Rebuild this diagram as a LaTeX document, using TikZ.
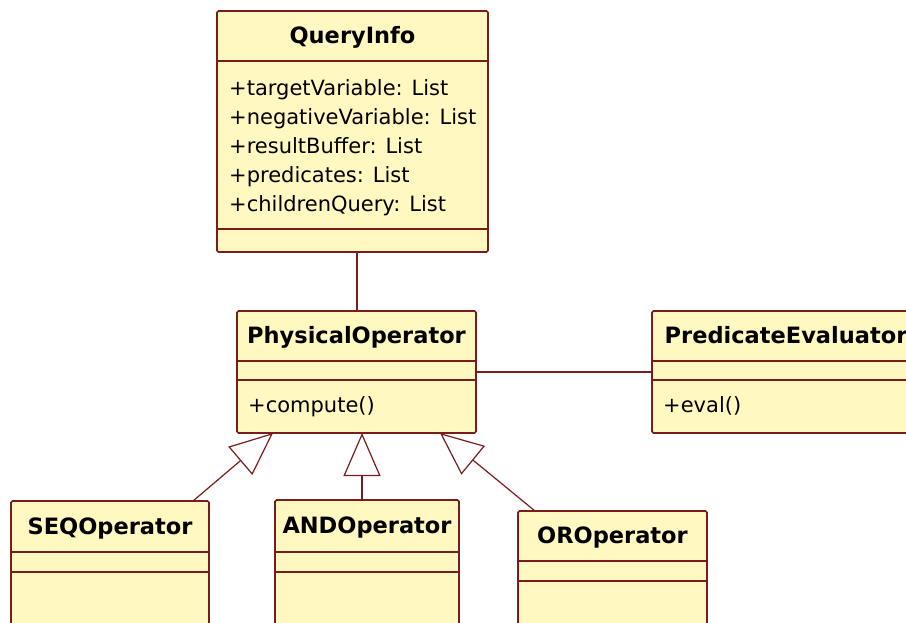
\documentclass[tikz,border=0pt]{standalone}
\usepackage{fontspec}
\setmainfont{DejaVu Sans}
\usetikzlibrary{arrows.meta,calc}
\definecolor{umlfill}{RGB}{255,248,192}
\definecolor{umlline}{RGB}{122,28,28}
\newcommand\umldivider[2]{\draw[classline] ($(#1.north west)+(0,#2)$) -- ($(#1.north east)+(0,#2)$);}
\begin{document}
\begin{tikzpicture}[x=1pt,y=-1pt,
  classline/.style={draw=umlline,line width=1.6pt},
  classbox/.style={classline,fill=umlfill,rectangle,rounded corners=1.5pt,inner sep=0pt,outer sep=0pt,anchor=north west},
  titletext/.style={font=\fontsize{22.5}{27}\selectfont\bfseries,anchor=base,inner sep=0pt},
  membertext/.style={font=\fontsize{21}{26}\selectfont,anchor=base west,inner sep=0pt},
  assoc/.style={draw=umlline,line width=1.4pt},
  general/.style={draw=umlline,line width=1.2pt,-{Triangle[open,length=43pt,width=37pt,line width=1.2pt]}}
]
\useasboundingbox (0,0) rectangle (906,622);
\fill[white] (0,0) rectangle (906,622);
\clip (0,0) rectangle (906,622);

% QueryInfo
\node[classbox,minimum width=271pt,minimum height=241pt] (qi) at (217,11) {};
\umldivider{qi}{50}
\umldivider{qi}{218}
\node[titletext] (qit) at ($(qi.north)+(0,32)$) {QueryInfo};
\node[membertext] (qa1) at ($(qi.north west)+(12,84)$) {+targetVariable: List};
\node[membertext] (qa2) at ($(qi.north west)+(12,113)$) {+negativeVariable: List};
\node[membertext] (qa3) at ($(qi.north west)+(12,142)$) {+resultBuffer: List};
\node[membertext] (qa4) at ($(qi.north west)+(12,171)$) {+predicates: List};
\node[membertext] (qa5) at ($(qi.north west)+(12,200)$) {+childrenQuery: List};

% PhysicalOperator
\node[classbox,minimum width=239pt,minimum height=122pt] (po) at (237,311) {};
\umldivider{po}{50}
\umldivider{po}{69}
\node[titletext] (pot) at ($(po.north)+(0,32)$) {PhysicalOperator};
\node[membertext] (pom) at ($(po.north west)+(11,101)$) {+compute()};

% PredicateEvaluator
\node[classbox,minimum width=268pt,minimum height=122pt] (pe) at (652,311) {};
\umldivider{pe}{50}
\umldivider{pe}{69}
\node[titletext] (pet) at ($(pe.north)+(0,32)$) {PredicateEvaluator};
\node[membertext] (pem) at ($(pe.north west)+(11,101)$) {+eval()};

% SEQOperator
\node[classbox,minimum width=198pt,minimum height=150pt] (seq) at (11,501) {};
\umldivider{seq}{51}
\umldivider{seq}{71}
\node[titletext] (seqt) at ($(seq.north)+(0,33)$) {SEQOperator};

% ANDOperator
\node[classbox,minimum width=184pt,minimum height=150pt] (and) at (275,500) {};
\umldivider{and}{52}
\umldivider{and}{72}
\node[titletext] (andt) at ($(and.north)+(0,33)$) {ANDOperator};

% OROperator
\node[classbox,minimum width=189pt,minimum height=150pt] (or) at (518,511) {};
\umldivider{or}{50}
\umldivider{or}{70}
\node[titletext] (ort) at ($(or.north)+(0,32)$) {OROperator};

% associations
\draw[assoc] ($(qi.south west)+(140,0)$) -- ($(po.north west)+(120,0)$);
\draw[assoc] (po.east) -- (pe.west);

% generalizations
\coordinate (seqtip) at ($(po.south west)+(36,0)$);
\coordinate (andtip) at ($(po.south west)+(125,0)$);
\coordinate (ortip) at ($(po.south west)+(203,0)$);
\draw[general] ($(seq.north west)+(182,0)$) -- (seqtip);
\draw[general] ($(and.north west)+(87,0)$) -- (andtip);
\draw[general] ($(or.north west)+(17,0)$) -- (ortip);
\end{tikzpicture}
\end{document}
